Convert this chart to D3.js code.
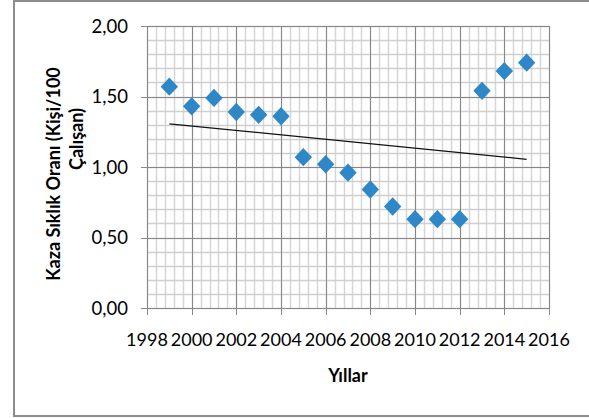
<!DOCTYPE html>
<html><head><meta charset="utf-8">
<script src="https://cdn.jsdelivr.net/npm/d3@7/dist/d3.min.js"></script>
<style>body{margin:0;background:#fff}svg{display:block}</style>
</head><body>
<svg id="c" width="589" height="418"></svg>
<script>
const years = [1999,2000,2001,2002,2003,2004,2005,2006,2007,2008,2009,2010,2011,2012,2013,2014,2015];
const rates = [1.57,1.43,1.49,1.39,1.37,1.36,1.07,1.02,0.96,0.84,0.72,0.63,0.63,0.63,1.54,1.68,1.74];
const xTicks = [1998,2000,2002,2004,2006,2008,2010,2012,2014,2016];
const yTicks = [0,0.5,1,1.5,2];
const yTitle = ["Kaza Sıklık Oranı (Kişi/100", "Çalışan)"];
const xTitle = "Yıllar";

const svg = d3.select("#c");
const F = "Lato, 'Open Sans', sans-serif";
svg.append("rect").attr("x",14).attr("y",1).attr("width",600).attr("height",415)
  .attr("fill","#fff").attr("stroke","#8c8c8c").attr("stroke-width",2);

const x = d3.scaleLinear().domain([1998,2016]).range([147,549]);
const y = d3.scaleLinear().domain([0,2]).range([308,26]);

const g = svg.append("g");
// minor grid
const xMinor = d3.range(0,46).map(i=>1998+i*0.4);
const yMinor = d3.range(0,21).map(i=>i*0.1);
g.selectAll(".vm").data(xMinor).join("line")
  .attr("x1",d=>Math.round(x(d))+0.5).attr("x2",d=>Math.round(x(d))+0.5)
  .attr("y1",y(2)).attr("y2",y(0)).attr("stroke","#d6d6d6").attr("stroke-width",1.5);
g.selectAll(".hm").data(yMinor).join("line")
  .attr("x1",x(1998)).attr("x2",x(2016))
  .attr("y1",d=>Math.round(y(d))+0.5).attr("y2",d=>Math.round(y(d))+0.5)
  .attr("stroke","#cfcfcf").attr("stroke-width",1.5);
// major grid
g.selectAll(".vM").data(xTicks).join("line")
  .attr("x1",d=>Math.round(x(d))+0.5).attr("x2",d=>Math.round(x(d))+0.5)
  .attr("y1",y(2)).attr("y2",y(0)+7).attr("stroke","#878787").attr("stroke-width",1);
g.selectAll(".hM").data(yTicks).join("line")
  .attr("x1",x(1998)-6).attr("x2",x(2016))
  .attr("y1",d=>Math.round(y(d))+0.5).attr("y2",d=>Math.round(y(d))+0.5)
  .attr("stroke","#878787").attr("stroke-width",1);

// tick labels
const fmt = d=>d.toFixed(2).replace(".",",");
svg.selectAll(".yl").data(yTicks).join("text")
  .attr("x",128).attr("y",d=>y(d)+6.5).attr("text-anchor","end")
  .attr("font-family",F).attr("font-size",18.5).attr("fill","#000").text(fmt);
svg.selectAll(".xl").data(xTicks).join("text")
  .attr("x",d=>x(d)).attr("y",346).attr("text-anchor","middle")
  .attr("font-family",F).attr("font-size",18).attr("fill","#000").text(d=>d);

// trend line (least squares)
const mx = d3.mean(years), my = d3.mean(rates);
const slope = d3.sum(years,(v,i)=>(v-mx)*(rates[i]-my))/d3.sum(years,v=>(v-mx)*(v-mx));
const icp = my - slope*mx;
const x0 = d3.min(years), x1 = d3.max(years);
svg.append("line").attr("x1",x(x0)).attr("y1",y(icp+slope*x0))
  .attr("x2",x(x1)).attr("y2",y(icp+slope*x1))
  .attr("stroke","#111").attr("stroke-width",1.3);

// markers
const diamond = "M0,-9.2L8.7,0L0,9.2L-8.7,0Z";
svg.selectAll(".pt").data(years).join("path")
  .attr("transform",(d,i)=>`translate(${x(d)},${y(rates[i])})`)
  .attr("d",diamond).attr("fill","#2e87c6");

// axis titles
svg.append("text").attr("transform","translate(60,174) rotate(-90)")
  .attr("text-anchor","middle").attr("font-family",F).attr("font-weight","bold")
  .attr("font-size",18).text(yTitle[0]);
svg.append("text").attr("transform","translate(83,139) rotate(-90)")
  .attr("text-anchor","middle").attr("font-family",F).attr("font-weight","bold")
  .attr("font-size",18).text(yTitle[1]);
svg.append("text").attr("x",348).attr("y",382).attr("text-anchor","middle")
  .attr("font-family",F).attr("font-weight","bold").attr("font-size",18).text(xTitle);
</script>
</body></html>
